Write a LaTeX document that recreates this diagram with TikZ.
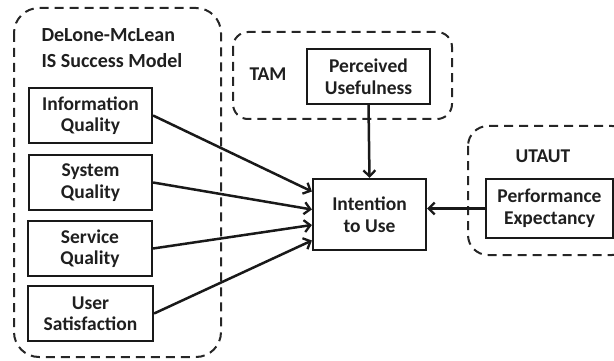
\documentclass[tikz,border=0pt]{standalone}
\usepackage{fontspec}
\setmainfont{Carlito}
\usetikzlibrary{arrows.meta}
\begin{document}
\begin{tikzpicture}[x=1pt,y=-1pt,
  every node/.style={font=\bfseries\fontsize{19.5}{21.5}\selectfont, text=black!88},
  factor/.style={draw=black!90, line width=2.2pt, rectangle, align=center, inner sep=0pt},
  group/.style={draw=black!85, line width=2pt, dash pattern=on 9pt off 6pt},
  link/.style={draw=black!90, line width=2.5pt, -{Straight Barb[length=6pt,width=12pt,line width=2.3pt]}}]
\useasboundingbox (0,0) rectangle (614,361);
\begin{scope}
\clip (0,0) rectangle (614,361);
% model groups
\draw[group, rounded corners=25pt] (14,8) rectangle (221,357);
\draw[group, rounded corners=15pt] (233,32) rectangle (452,119);
\draw[group, rounded corners=20pt] (468,126) rectangle (632,255);
\end{scope}

% group titles
\node[align=left, anchor=west, font=\bfseries\fontsize{20}{26}\selectfont] (dm) at (38,48) {DeLone-McLean\\IS Success Model};
\node (tam) at (268,74) {TAM};
\node (utaut) at (543,156) {UTAUT};

% factors
\node[factor, minimum width=123pt, minimum height=55pt] (info) at (90.5,115.5) {Information\\Quality};
\node[factor, minimum width=123pt, minimum height=55pt] (sys) at (90.5,182.5) {System\\Quality};
\node[factor, minimum width=124pt, minimum height=55pt] (serv) at (90,248.5) {Service\\Quality};
\node[factor, minimum width=125pt, minimum height=55pt] (user) at (90.5,313.5) {User\\Satisfaction};
\node[factor, minimum width=123pt, minimum height=55pt] (pu) at (368.5,76.5) {Perceived\\Usefulness};
\node[factor, minimum width=113pt, minimum height=71pt] (intent) at (369.5,214.5) {Intention\\to Use};
\node[factor, minimum width=127pt, minimum height=59pt] (pe) at (549.5,208.5) {Performance\\Expectancy};

% arrow targets on the left side of the outcome
\coordinate (t1) at ([yshift=23pt]intent.west);
\coordinate (t2) at ([yshift=5pt]intent.west);
\coordinate (t3) at ([yshift=-10.5pt]intent.west);
\coordinate (t4) at ([yshift=-26pt]intent.west);

\draw[link] (info.east) -- (t1);
\draw[link] (sys.east) -- (t2);
\draw[link] (serv.east) -- (t3);
\draw[link] (user.east) -- (t4);
\draw[link] (pu.south) -- (intent.north);
\draw[link] (pe.west) -- (intent.east |- pe.west);
\end{tikzpicture}
\end{document}
